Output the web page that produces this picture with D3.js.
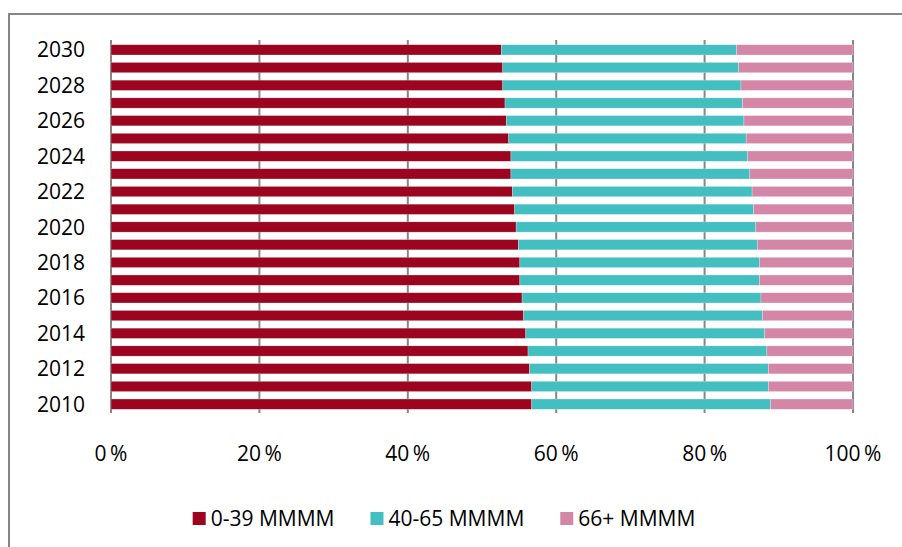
<!DOCTYPE html>
<html>
<head>
<meta charset="utf-8">
<script src="https://cdn.jsdelivr.net/npm/d3@7"></script>
<style>
    body { margin: 0; background: #fff; }
    svg { display: block; font-family: "Open Sans", "Noto Sans", sans-serif; }
</style>
</head>
<body>
<div id="chart"></div>
<script>
const years = d3.range(2010, 2031);

// share of population per age group, percent
const young = [56.7, 56.7, 56.4, 56.2, 55.9, 55.6, 55.4, 55.1, 55.1, 54.9, 54.6,
    54.4, 54.1, 53.9, 53.9, 53.6, 53.3, 53.1, 52.8, 52.8, 52.6];
const middle = [32.2, 31.9, 32.2, 32.2, 32.2, 32.2, 32.2, 32.3, 32.3, 32.2, 32.3,
    32.2, 32.3, 32.2, 31.9, 32.0, 32.0, 32.0, 32.1, 31.8, 31.7];
const old = young.map((v, i) => +(100 - v - middle[i]).toFixed(1));

const seriesNames = ['0-39 MMMM', '40-65 MMMM', '66+ MMMM'];
const seriesColors = ['#9b0520', '#43bec1', '#d486a6'];
const xTicks = [0, 20, 40, 60, 80, 100];

const width = 902,
    height = 547,
    margin = { top: 40, right: 49, bottom: 134, left: 111 };

const rows = years.map((y, i) => ({ year: y, a: young[i], b: middle[i], c: old[i] }));

let svg = d3.select('#chart').append('svg')
    .attr('width', width)
    .attr('height', height);

// outer frame (only top and left edges are in view)
svg.append('path')
    .attr('d', 'M9,' + (height + 5) + 'V14H' + (width + 5))
    .attr('fill', 'none')
    .attr('stroke', '#868686')
    .attr('stroke-width', 2);

const x = d3.scaleLinear()
    .domain([0, 100])
    .range([margin.left, width - margin.right]);

const y = d3.scaleBand()
    .domain(years.slice().reverse())
    .range([margin.top + 1, height - margin.bottom])
    .paddingInner(0.42)
    .paddingOuter(0.21);

// vertical gridlines, under the bars
svg.append('g')
    .selectAll('line')
    .data(xTicks)
    .join('line')
    .attr('x1', d => x(d))
    .attr('x2', d => x(d))
    .attr('y1', margin.top)
    .attr('y2', height - margin.bottom)
    .attr('stroke', '#868686')
    .attr('stroke-width', 2);

const stack = d3.stack().keys(['a', 'b', 'c']);
const layers = stack(rows);

svg.append('g')
    .selectAll('g')
    .data(layers)
    .join('g')
    .attr('fill', (d, i) => seriesColors[i])
    .selectAll('rect')
    .data(d => d)
    .join('rect')
    .attr('x', d => x(d[0]))
    .attr('y', d => y(d.data.year))
    .attr('width', d => x(d[1]) - x(d[0]))
    .attr('height', y.bandwidth())
    .attr('stroke', '#fff')
    .attr('stroke-opacity', 0.5)
    .attr('stroke-width', 0.5);

// x tick labels
svg.append('g')
    .selectAll('text')
    .data(xTicks)
    .join('text')
    .attr('x', d => x(d))
    .attr('y', 461)
    .attr('text-anchor', 'middle')
    .attr('fill', '#000')
    .style('font-size', '21px')
    .text(d => d + '\u2009%');

// year labels, every other year
svg.append('g')
    .selectAll('text')
    .data(years.filter(d => d % 2 === 0))
    .join('text')
    .attr('x', 85)
    .attr('y', d => y(d) + y.bandwidth() / 2)
    .attr('dy', '0.36em')
    .attr('text-anchor', 'end')
    .attr('fill', '#000')
    .style('font-size', '21px')
    .text(d => d);

// legend
const legend = svg.append('g');
let lx = 0;
seriesNames.forEach((name, i) => {
    const g = legend.append('g').attr('transform', 'translate(' + lx + ',0)');
    g.append('rect')
        .attr('x', 0)
        .attr('y', -14)
        .attr('width', 13)
        .attr('height', 13)
        .attr('fill', seriesColors[i]);
    const t = g.append('text')
        .attr('x', 18)
        .attr('y', 0)
        .attr('fill', '#000')
        .style('font-size', '21px')
        .text(name);
    lx += 18 + t.node().getComputedTextLength() + 36;
});
const legendW = lx - 36;
legend.attr('transform', 'translate(' + (444 - legendW / 2) + ',526)');
</script>
</body>
</html>
